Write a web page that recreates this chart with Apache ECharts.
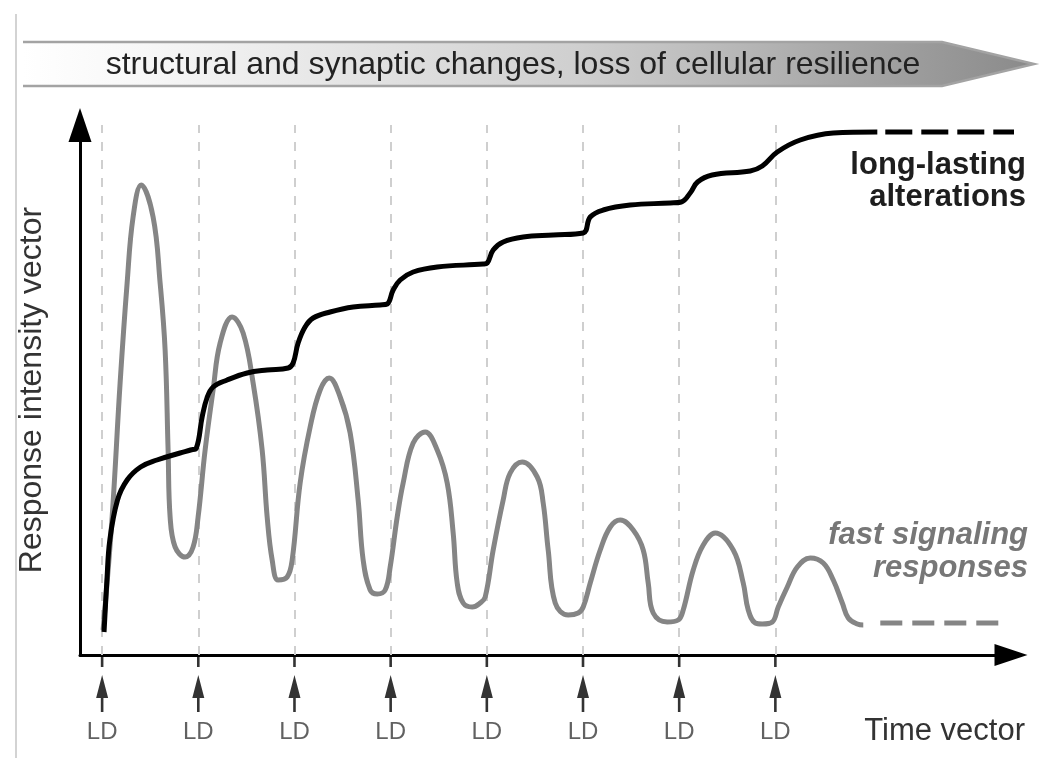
<!DOCTYPE html>
<html>
<head>
<meta charset="utf-8">
<script src="https://cdn.jsdelivr.net/npm/echarts@6/dist/echarts.min.js"></script>
<style>
  html, body { margin: 0; padding: 0; background: #fff; }
  #chart { width: 1050px; height: 773px; }
</style>
</head>
<body>
<div id="chart"></div>
<script>
// ---- data (time in LD-interval units: LD every 100; response in arbitrary units) ----
const ldTimes = [0, 100, 200, 300, 400, 500, 600, 700];
const ldLabel = 'LD';

const longLasting = [
  [2, 4.6], [5, 15], [8, 23], [16, 31], [26, 35], [40, 37.6], [57, 39], [81, 40.4], [92, 41], [98, 41.4],
  [104, 47.6], [109, 51.4], [115.4, 53.6], [130, 55], [150.8, 56.4], [171.6, 57], [193.4, 57.4],
  [198.6, 58.4], [203.8, 62.4], [211, 65.6], [219.4, 67.4], [237, 68.6], [261, 69.6], [289, 70], [296.4, 70.2],
  [302.6, 73], [309.9, 75], [323.4, 76.6], [348.4, 77.6], [396.2, 78.2], [400.4, 78.4],
  [406.6, 81], [417, 82.6], [437.8, 83.6], [469, 84], [500.2, 84.4],
  [507.5, 87.6], [521, 89], [549, 90], [590.7, 90.4], [602.2, 90.6],
  [611.4, 92.4], [619.1, 94.6], [634.3, 96], [673.9, 96.8], [686.4, 97.8],
  [702, 100.6], [725.9, 103], [760.2, 104.4], [806, 104.6]
];
const longLastingTail = [[814.3, 104.6], [955.8, 104.6]];

const fastSignaling = [
  [1.0, 5.0], [10.4, 27.6], [18.7, 54.4], [26.0, 74.4], [32.2, 87.6], [40.6, 94.0], [53.0, 87.6],
  [60.3, 74.4], [65.5, 61.0], [68.6, 41.0], [70.7, 27.6], [75.9, 21.6], [86.3, 19.6], [94.6, 21.6],
  [99.8, 27.6], [107.1, 41.0], [115.4, 53.0], [122.7, 62.4], [135.2, 67.6], [146.6, 64.4], [157.0, 54.4],
  [166.4, 41.0], [171.6, 27.6], [176.8, 19.0], [183.0, 15.0], [192.4, 15.6], [197.6, 19.0],
  [205.9, 34.4], [216.3, 45.6], [226.7, 53.0], [236.1, 55.4], [247.5, 51.6], [257.9, 44.4],
  [266.2, 31.0], [271.4, 19.0], [278.7, 13.0], [286.0, 12.2], [294.3, 13.0], [299.5, 17.6],
  [306.8, 27.6], [313.0, 34.4], [323.4, 42.4], [335.9, 44.6], [348.4, 41.0], [358.8, 34.4],
  [365.0, 24.4], [369.2, 14.4], [375.4, 10.4], [384.8, 9.6], [393.1, 10.4], [398.3, 11.6],
  [406.6, 21.0], [417.0, 31.0], [424.3, 36.4], [436.8, 38.6], [452.4, 35.6], [458.6, 30.4],
  [463.8, 21.0], [471.1, 10.4], [484.6, 8.0], [495.0, 8.4], [500.2, 9.6], [507.5, 14.4],
  [517.9, 21.0], [528.3, 25.6], [538.7, 27.0], [552.2, 25.0], [562.6, 21.0], [567.8, 14.4],
  [573.0, 8.4], [587.6, 6.6], [599.0, 7.0], [604.2, 9.0], [614.6, 17.0], [625.0, 22.0],
  [637.5, 24.4], [656.2, 21.0], [666.6, 14.4], [671.8, 9.0], [679.1, 6.4], [686.4, 6.2],
  [696.8, 6.6], [703.0, 9.6], [712.4, 13.6], [722.8, 17.6], [736.3, 19.4], [749.8, 18.4],
  [760.2, 15.0], [769.6, 10.4], [775.8, 7.4], [785.2, 6.2], [791.4, 6.0]
];
const fastSignalingTail = [[809.1, 6.4], [931.8, 6.4]];

// ---- chart ----
const FONT = '"Liberation Sans", Arial, Helvetica, sans-serif';
const GRAY = '#858585';
const ARROW_PATH = 'path://M4.7,0 L7.3,0 L7.3,12 L4.7,12 Z M6,20 L12,43 L0,43 Z M4.7,42 L7.3,42 L7.3,57 L4.7,57 Z';

const chart = echarts.init(document.getElementById('chart'), null, { renderer: 'canvas' });

const option = {
  animation: false,
  backgroundColor: '#fff',
  grid: { left: 80, right: 39, top: 125, bottom: 118, containLabel: false },
  xAxis: {
    type: 'value', min: -23, max: 945,
    axisLine: { show: true, onZero: false, symbol: ['none', 'triangle'], symbolSize: [22, 33],
      lineStyle: { color: '#000', width: 3 } },
    axisTick: { show: false }, axisLabel: { show: false }, splitLine: { show: false }
  },
  yAxis: {
    type: 'value', min: 0, max: 106,
    name: 'Response intensity vector', nameLocation: 'middle', nameGap: 32, nameRotate: 90,
    nameTextStyle: { fontFamily: FONT, fontSize: 32, color: '#333' },
    axisLine: { show: true, onZero: false, symbol: ['none', 'triangle'], symbolSize: [23, 34],
      lineStyle: { color: '#000', width: 3 } },
    axisTick: { show: false }, axisLabel: { show: false }, splitLine: { show: false }
  },
  graphic: [
    { type: 'line', shape: { x1: 16, y1: 14, x2: 16, y2: 758 }, style: { stroke: '#c4c4c4', lineWidth: 1.5 } },
    { type: 'polygon', shape: { points: [[23, 42], [942, 42], [1034, 64], [942, 86], [23, 86]] },
      style: { fill: new echarts.graphic.LinearGradient(0, 0, 1, 0, [
        { offset: 0, color: '#ffffff' }, { offset: 0.12, color: '#f7f7f7' },
        { offset: 0.55, color: '#cfcfcf' }, { offset: 1, color: '#8a8a8a' }]) } },
    { type: 'polyline', shape: { points: [[23, 42], [942, 42], [1034, 64], [942, 86], [23, 86]] },
      style: { stroke: '#a3a3a3', lineWidth: 2.5, fill: null } },
    { type: 'text', x: 513, y: 65, style: { text: 'structural and synaptic changes, loss of cellular resilience',
      font: '32px ' + FONT, fill: '#222', textAlign: 'center', textVerticalAlign: 'middle' } },
    { type: 'text', x: 1026, y: 165, style: { text: 'long-lasting', font: 'bold 31px ' + FONT, fill: '#1e1e1e',
      textAlign: 'right', textVerticalAlign: 'middle' } },
    { type: 'text', x: 1026, y: 197, style: { text: 'alterations', font: 'bold 31px ' + FONT, fill: '#1e1e1e',
      textAlign: 'right', textVerticalAlign: 'middle' } },
    { type: 'text', x: 1028, y: 535, style: { text: 'fast signaling', font: 'italic bold 31px ' + FONT, fill: '#777',
      textAlign: 'right', textVerticalAlign: 'middle' } },
    { type: 'text', x: 1028, y: 568, style: { text: 'responses', font: 'italic bold 31px ' + FONT, fill: '#777',
      textAlign: 'right', textVerticalAlign: 'middle' } },
    { type: 'text', x: 1025, y: 731, style: { text: 'Time vector', font: '31px ' + FONT, fill: '#333',
      textAlign: 'right', textVerticalAlign: 'middle' } }
  ],
  series: [
    {
      name: 'fast signaling responses', type: 'line', data: fastSignaling, smooth: 0.4,
      symbol: 'none', z: 3, lineStyle: { color: GRAY, width: 5 },
      markLine: {
        z: 1, silent: true, symbol: 'none', animation: false,
        label: { show: false },
        lineStyle: { color: '#cfcfcf', type: [9, 9], width: 2 },
        data: ldTimes.map(t => ({ xAxis: t }))
      }
    },
    { name: 'fast tail', type: 'line', data: fastSignalingTail, symbol: 'none', clip: false, z: 3,
      lineStyle: { color: GRAY, width: 5, type: [22, 10] } },
    { name: 'long-lasting alterations', type: 'line', data: longLasting, smooth: 0.4,
      symbol: 'none', z: 4, lineStyle: { color: '#000', width: 5 } },
    { name: 'long tail', type: 'line', data: longLastingTail, symbol: 'none', clip: false, z: 4,
      lineStyle: { color: '#000', width: 5, type: [27, 9] } },
    {
      name: 'LD', type: 'scatter', clip: false, silent: true, z: 5,
      data: ldTimes.map(t => [t, -5.7]),
      symbol: ARROW_PATH, symbolSize: [12, 57],
      itemStyle: { color: '#000' },
      label: { show: true, position: 'bottom', distance: 8, formatter: ldLabel,
        fontFamily: FONT, fontSize: 24, color: '#3a3a3a' }
    }
  ]
};
chart.setOption(option);
</script>
</body>
</html>
